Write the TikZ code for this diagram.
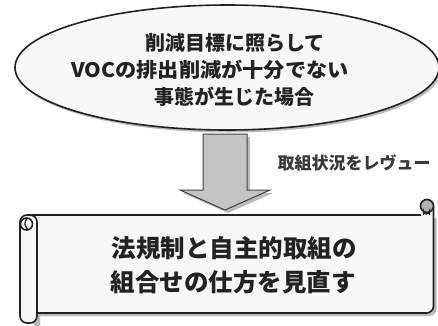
\documentclass[tikz,border=0pt]{standalone}
\usepackage{fontspec}
\newfontfamily\cjk{Noto Sans CJK JP}
\definecolor{ink}{HTML}{222222}
\definecolor{paper}{HTML}{F8F8F8}
\definecolor{arrowfill}{HTML}{C4C4C4}
\begin{document}
\begin{tikzpicture}[x=1pt,y=-1pt,
  outl/.style={draw=ink,line width=1.6pt},
  shadowed/.style={fill=black!45,opacity=0.6},
  etext/.style={font=\cjk\bfseries\fontsize{20}{24}\selectfont,text=ink,inner sep=0pt},
  stext/.style={font=\cjk\bfseries\fontsize{24.5}{28}\selectfont,text=ink,inner sep=0pt},
  ltext/.style={font=\cjk\bfseries\fontsize{17}{20}\selectfont,text=ink!90,inner sep=0pt}]
\useasboundingbox (0,0) rectangle (438,325);
% ---- ellipse ----
\fill[shadowed] (229,70) ellipse [x radius=212, y radius=62.5];
\path[outl,fill=paper] (227,67.5) ellipse [x radius=212, y radius=62.5];
\coordinate (e) at (227,67.5);
\node[etext] (l1) at (235,43) {削減目標に照らして};
\node[etext] (l2) at (210,70) {\scalebox{1.06}[1]{VOCの排出削減が十分でない}};
\node[etext] (l3) at (234.5,97) {事態が生じた場合};
% ---- block arrow ----
\fill[shadowed] (206,137) -- (250,137) -- (250,193) -- (273,193) -- (228,213) -- (183,193) -- (206,193) -- cycle;
\path[draw=ink!85,line width=1pt,fill=arrowfill,line join=miter]
  (203,134) -- (247,134) -- (247,190) -- (270,190) -- (225,210) -- (180,190) -- (203,190) -- cycle;
\node[ltext] (lab) at (354,163) {取組状況をレヴュー};
% ---- scroll ----
\fill[shadowed] (40,218) -- (436.5,218) -- (436.5,309) arc[start angle=0,end angle=90,radius=7] -- (40,316) -- cycle;
\fill[shadowed] (23,226) -- (23,321) arc[start angle=180,end angle=270,radius=5] -- (35,326) -- (40,326) -- (40,226) -- cycle;
% body
\path[fill=paper] (37,215) -- (433.5,215) -- (433.5,306) arc[start angle=0,end angle=90,radius=7] -- (37,313) -- cycle;
\draw[outl] (28,215) -- (421,215);
\draw[outl] (433.5,206) -- (433.5,306) arc[start angle=0,end angle=90,radius=7] -- (37,313);
% right curl
\path[outl,fill=black!30] (427,206) circle[radius=6.5];
\draw[ink,line width=1.3pt] (423.5,215) -- (423.5,211) arc[start angle=180,end angle=0,radius=3] -- (429.5,215);
% left roll
\path[outl,fill=paper,rounded corners=7] (20,323) -- (20,215) -- (37,215) -- (37,323) -- cycle;
\draw[outl] (26.5,224) circle[radius=6];
\draw[ink,line width=1.3pt] (27,218) .. controls (24,224) .. (28,230);
% texts
\node[stext] (s1) at (234,248) {法規制と自主的取組の};
\node[stext] (s2) at (233,282) {組合せの仕方を見直す};
\end{tikzpicture}
\end{document}
